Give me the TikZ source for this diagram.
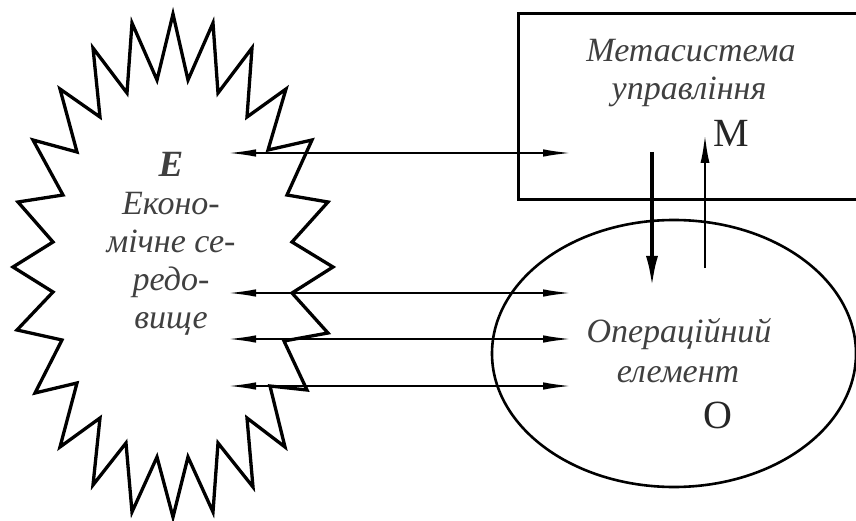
\documentclass[tikz,border=0pt]{standalone}
\usepackage{fontspec}
\setmainfont{Liberation Serif}
\usetikzlibrary{arrows.meta,shapes.geometric}
\begin{document}
\begin{tikzpicture}[x=1pt,y=-1pt,
  starline/.style={line width=3.3pt, line join=miter},
  frameline/.style={draw, line width=3pt},
  biarrow/.style={line width=2.2pt, {Latex[length=29pt,width=7.5pt]}-{Latex[length=29pt,width=7.5pt]}},
  uparrow/.style={line width=2.8pt, -{Latex[length=30pt,width=9pt]}},
  downarrow/.style={line width=3.6pt, -{Latex[length=31pt,width=12pt]}},
  lbl/.style={text=black!75, font=\fontsize{34}{38}\selectfont\itshape, align=center, inner sep=0pt},
  letter/.style={text=black!85, font=\fontsize{40}{40}\selectfont, inner sep=0pt}
]
\useasboundingbox (0,0) rectangle (856,521);
\clip (0,0) rectangle (856,521);
\fill[white] (0,0) rectangle (856,521);

% economic environment (star)
\draw[starline] (173,14) -- (188,80) -- (213,23) -- (218,93) -- (252,48) -- (247,117)
  -- (286,89) -- (268,150) -- (312,140) -- (287,195) -- (328,202) -- (292,242)
  -- (333,267) -- (292,293) -- (328,333) -- (284,341) -- (307,390) -- (270,386)
  -- (285,447) -- (247,418) -- (253,487) -- (218,443) -- (213,512) -- (188,457)
  -- (173,517) -- (157,457) -- (132,512) -- (126,443) -- (93,485) -- (100,418)
  -- (60,447) -- (77,383) -- (35,393) -- (62,340) -- (17,330) -- (53,292)
  -- (13,267) -- (53,242) -- (18,202) -- (63,195) -- (33,140) -- (77,152)
  -- (60,89) -- (100,117) -- (93,48) -- (127,93) -- (132,23) -- (157,80) -- cycle;

% metasystem box (right side off the page)
\node[frameline, rectangle, minimum width=352pt, minimum height=186pt, inner sep=0pt] (M) at (694,107) {};
% operational element ellipse
\node[draw, line width=2.6pt, ellipse, minimum width=364pt, minimum height=267pt, inner sep=0pt] (O) at (674,353.5) {};

% texts
\node[lbl] (envtext) at (171,244) {\fontsize{37}{40}\selectfont\bfseries Е\\[0pt]\fontsize{34}{40.5}\selectfont Еконо-\\мічне се-\\редо-\\вище};
\node[lbl, anchor=base] (mtext1) at (691,62) {Метасистема};
\node[lbl, anchor=base] (mtext2) at (689,100) {управління};
\node[letter, anchor=base] (Mlabel) at (731,147) {М};
\node[lbl, anchor=base] (otext1) at (679,342) {Операційний};
\node[lbl, anchor=base] (otext2) at (678,382) {елемент};
\node[letter, anchor=base] (Olabel) at (718,428) {О};

% connector ends
\coordinate (e1) at (227,153); \coordinate (m1) at (572,153);
\coordinate (e2) at (227,293); \coordinate (o2) at (572,293);
\coordinate (e3) at (227,339); \coordinate (o3) at (572,339);
\coordinate (e4) at (227,386); \coordinate (o4) at (572,386);
\coordinate (md) at (652,152); \coordinate (od) at (652,287);
\coordinate (ou) at (705,268); \coordinate (mu) at (705,133);

\draw[biarrow] (e1) -- (m1);
\draw[biarrow] (e2) -- (o2);
\draw[biarrow] (e3) -- (o3);
\draw[biarrow] (e4) -- (o4);
\draw[downarrow] (md) -- (od);
\draw[uparrow] (ou) -- (mu);
\end{tikzpicture}
\end{document}
